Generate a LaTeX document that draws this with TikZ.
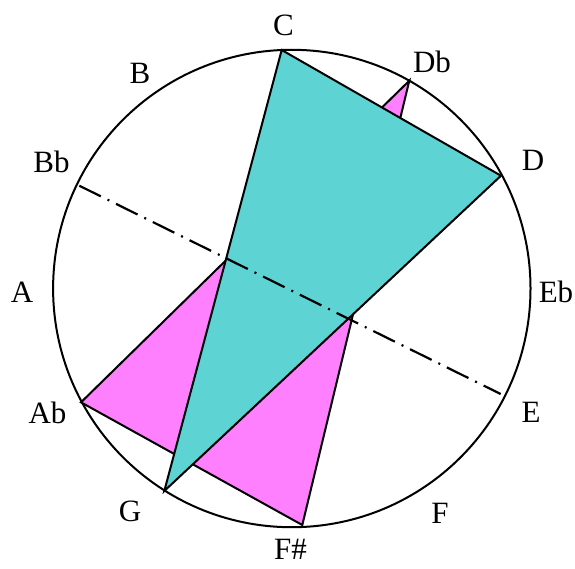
\documentclass[tikz,border=0pt]{standalone}
\usepackage{fontspec}
\setmainfont{Liberation Serif}
\definecolor{cyanfill}{RGB}{94,211,211}
\definecolor{magfill}{RGB}{255,128,255}
\begin{document}
\begin{tikzpicture}[x=1pt,y=-1pt,
  edge/.style={draw=black,line width=2pt,line join=miter},
  ring/.style={draw=black,line width=2pt},
  axisline/.style={draw=black,line width=2.2pt,dash pattern=on 24pt off 7.5pt on 2pt off 7.5pt},
  lbl/.style={anchor=base,inner sep=0pt,font=\fontsize{31}{34}\selectfont}]
\useasboundingbox (0,0) rectangle (575,568);
\coordinate (O) at (291.8,288.5);
\coordinate (C) at (281.7,50);
\coordinate (Db) at (409.3,80.7);
\coordinate (D) at (501,175.7);
\coordinate (Fs) at (302.3,525);
\coordinate (G) at (164.3,491);
\coordinate (Ab) at (81,402.3);
\coordinate (X1) at (79.3,185.7);
\coordinate (X2) at (500.7,394);
\draw[ring] (O) circle[radius=238.7pt];
\path[edge,fill=magfill] (Db) -- (Ab) -- (Fs) -- cycle;
\path[edge,fill=cyanfill] (C) -- (D) -- (G) -- cycle;
\draw[axisline] (X1) -- (X2);
\node[lbl] (lC) at (283.5,35) {C};
\node[lbl] (lDb) at (432,72) {Db};
\node[lbl] (lD) at (533,170) {D};
\node[lbl] (lEb) at (556,302) {Eb};
\node[lbl] (lE) at (531,422) {E};
\node[lbl] (lF) at (440,523) {F};
\node[lbl] (lFs) at (290.5,559.5) {F\#};
\node[lbl] (lG) at (130,521.5) {G};
\node[lbl] (lAb) at (47.5,423) {Ab};
\node[lbl] (lA) at (22,302) {A};
\node[lbl] (lBb) at (51.5,172) {Bb};
\node[lbl] (lB) at (140,83) {B};
\end{tikzpicture}
\end{document}
